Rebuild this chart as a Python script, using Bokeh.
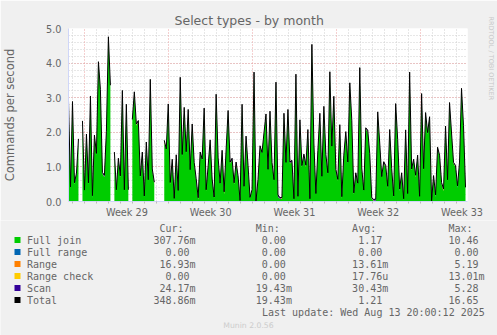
import numpy as np
from bokeh.plotting import figure
from bokeh.layouts import column
from bokeh.models import (Range1d, FixedTicker, SingleIntervalTicker, Grid, Title,
                          PrintfTickFormatter)
from bokeh.embed import file_html
from bokeh.resources import INLINE
from bokeh.core.properties import value

NAN = float("nan")

# ---- data (commands per second, one sample every 4 hours) ----
STEP_HOURS = 4
full_join = [
    2.88, 0.4, 2.83, 0.5, 0.8, 1.75, NAN, 2.3, 0.3, 1.9, 0.5, 3.02, 0.1, 1.85, 1.35, 4.0, 3.2,
    0.8, 0.7, 2.0, 4.73, 3.3, NAN, 1.4, 0.3, 1.2, 0.7, 3.17, 0.3, 2.78, 0.3, NAN, 2.35, 3.13,
    2.2, 2.3, 0.7, 1.4, 0.13, 1.65, 0.6, 3.5, 0.9, 0.5, NAN, NAN, NAN, NAN, 1.7, 1.5, 2.77,
    0.5, 1.2, 0.05, 1.3, 0.3, 3.54, 1.3, 2.7, 1.4, 2.6, 0.9, 2.2, 1.1, 0.6, 0.05, 1.4, 1.2,
    2.65, 0.3, 1.0, 1.75, 0.6, 0.1, 3.06, 1.2, 0.5, 1.45, 0.2, 1.45, 2.6, 1.1, 1.2, 0.5, 1.1,
    0.7, 0.0, 2.77, 0.4, 1.85, 1.0, 0.1, 0.3, 3.66, 0.0, 0.6, 1.55, 1.4, 1.95, 2.5, 0.9,
    2.55, 1.1, 0.6, 3.42, 0.13, 0.08, 0.08, 2.5, 1.1, 2.6, 1.1, 1.15, 0.05, 3.63, 0.13, 2.3, 1.0,
    1.35, 1.0, 2.05, 0.05, 4.49, 1.65, 0.2, 1.45, 2.5, 0.7, 2.7, 1.3, 0.8, 3.72, 1.55, 3.0, 0.9,
    0.6, 2.2, 0.08, 1.3, 2.0, 1.1, 3.4, 2.3, 0.2, 0.8, 0.5, 3.82, 0.9, 0.3, 2.1, 2.0, 1.35,
    0.08, 0.02, 0.02, 2.55, 1.65, 0.7, 1.1, 1.0, 0.4, 2.05, 0.9, 0.13, 2.8, 1.75, 0.3, 0.8,
    0.05, 2.0, 0.2, 3.71, 0.9, 1.2, 0.7, 1.3, 0.13, 3.06, 0.9, 2.55, 1.95, 2.4, 0.0, 0.7,
    0.13, 1.55, 1.3, 0.5, 0.3, 2.15, 0.6, 2.8, 1.95, 1.1, 1.0, 0.4, 1.1, 3.23, 2.15, 0.37,
]
full_range_vals = [0.0] * len(full_join)      # 0.00 everywhere (max 0.00)
range_check_vals = [0.0] * len(full_join)     # max 13.01m -> invisible at this scale
range_vals = [
    0.01, 0.0, 0.02, 0.01, 0.0, 0.01, 0.03, 0.01, 0.0, 0.01, 0.02, 0.0, 0.01, 0.05, 0.01, 0.0, 0.01, 0.02, 0.01, 0.0,
    0.01, 0.02, 0.0, 0.01, 0.01, 0.0, 0.02, 0.01, 0.0, 0.01, 0.01, 0.03, 0.0, 0.01, 0.02, 0.0, 0.01, 0.01, 0.0, 0.02,
    0.0, 0.01, 0.01, 0.02, 0.0, 0.01, 0.0, 0.01, 0.04, 0.0, 0.01, 0.02, 0.0, 0.01, 0.01, 0.0, 0.02, 0.01, 0.0, 0.01,
    0.02, 0.0, 0.01, 0.01, 0.0, 0.03, 0.01, 0.0, 0.01, 0.02, 0.0, 0.01, 0.01, 0.0, 0.02, 0.01, 0.0, 0.01, 0.05, 0.0,
    0.01, 0.01, 0.0, 0.02, 0.01, 0.0, 0.01, 0.01, 0.02, 0.0, 0.01, 0.0, 0.01, 0.03, 0.0, 0.01, 0.02, 0.0, 0.01, 0.01,
    0.0, 0.02, 0.01, 0.0, 0.01, 0.01, 0.0, 0.02, 0.01, 0.0, 0.04, 0.01, 0.0, 0.01, 0.02, 0.0, 0.01, 0.01, 0.0, 0.02,
    0.01, 0.0, 0.01, 0.02, 0.0, 0.01, 0.01, 0.0, 0.03, 0.01, 0.0, 0.01, 0.02, 0.0, 0.01, 0.01, 0.0, 0.02, 0.01, 0.0,
    0.01, 0.01, 0.0, 0.02, 0.01, 0.0, 0.01, 0.05, 0.0, 0.01, 0.02, 0.0, 0.01, 0.01, 0.0, 0.02, 0.01, 0.0, 0.01, 0.01,
    0.02, 0.0, 0.01, 0.01, 0.0, 0.02, 0.01, 0.0, 0.01, 0.03, 0.0, 0.01, 0.01, 0.0, 0.02, 0.01, 0.0, 0.01, 0.02, 0.0,
    0.01, 0.01, 0.0, 0.02, 0.01, 0.0, 0.01, 0.01, 0.04, 0.0, 0.01, 0.02, 0.0, 0.01, 0.01, 0.0, 0.02, 0.01, 0.0, 0.02,
]
scan_vals = [
    0.03, 0.02, 0.04, 0.03, 0.02, 0.05, 0.03, 0.02, 0.03, 0.04, 0.02, 0.03, 0.06, 0.02, 0.03, 0.04, 0.03, 0.02, 0.05, 0.03,
    0.02, 0.04, 0.03, 0.02, 0.03, 0.05, 0.02, 0.03, 0.04, 0.02, 0.03, 0.08, 0.02, 0.03, 0.02, 0.04, 0.03, 0.02, 0.03, 0.05,
    0.03, 0.02, 0.03, 0.04, 0.02, 0.03, 0.02, 0.05, 0.03, 0.02, 0.04, 0.03, 0.02, 0.03, 0.04, 0.02, 0.03, 0.05, 0.02, 0.03,
    0.04, 0.02, 0.03, 0.02, 0.06, 0.03, 0.02, 0.03, 0.04, 0.02, 0.03, 0.02, 0.04, 0.03, 0.02, 0.05, 0.03, 0.02, 0.03, 0.04,
    0.02, 0.03, 0.05, 0.02, 0.03, 0.04, 0.02, 0.03, 0.02, 0.04, 0.03, 0.02, 0.03, 0.05, 0.02, 0.03, 0.04, 0.02, 0.03, 0.02,
    0.03, 0.04, 0.02, 0.03, 0.02, 0.05, 0.03, 0.02, 0.04, 0.03, 0.02, 0.03, 0.04, 0.02, 0.03, 0.02, 0.05, 0.03, 0.02, 0.03,
    0.02, 0.03, 0.04, 0.02, 0.03, 0.02, 0.04, 0.03, 0.02, 0.05, 0.03, 0.02, 0.03, 0.04, 0.02, 0.03, 0.02, 0.04, 0.03, 0.02,
    0.03, 0.02, 0.05, 0.03, 0.02, 0.03, 0.04, 0.02, 0.03, 0.02, 0.04, 0.03, 0.02, 0.03, 0.05, 0.02, 0.03, 0.02, 0.04, 0.03,
    0.02, 0.03, 0.04, 0.02, 0.03, 0.02, 0.05, 0.03, 0.02, 0.04, 0.03, 0.02, 0.03, 0.02, 0.04, 0.03, 0.02, 0.05, 0.03, 0.02,
    0.03, 0.04, 0.02, 0.03, 0.05, 0.02, 0.03, 0.04, 0.02, 0.03, 0.02, 0.04, 0.03, 0.02, 0.03, 0.05, 0.02, 0.03, 0.04, 0.02,
]

# time axis (hours from left edge of the graph)
week_start_hours = [33, 201, 369, 537, 705]
week_labels = ["Week 29", "Week 30", "Week 31", "Week 32", "Week 33"]
day_hours = [9 + 24 * k for k in range(33)]

# legend table
series_names = ["Full join", "Full range", "Range", "Range check", "Scan", "Total"]
series_colors = ["#00CC00", "#0066B3", "#FF8000", "#FFCC00", "#330099", "#000000"]
cur_txt = ["307.76m", "0.00", "16.93m", "0.00", "24.17m", "348.86m"]
min_txt = ["0.00", "0.00", "0.00", "0.00", "19.43m", "19.43m"]
avg_txt = ["1.17", "0.00", "13.61m", "17.76u", "30.43m", "1.21"]
max_txt = ["10.46", "0.00", "5.19", "13.01m", "5.28", "16.65"]
col_heads = ["Cur:", "Min:", "Avg:", "Max:"]
last_update = "Last update: Wed Aug 13 20:00:12 2025"

FONT = "#666666"
BG = "#F0F0F0"
AXIS = "#CFD6F8"
NB = "\u00a0"

N = len(full_join)
t = np.arange(N) * STEP_HOURS
layers = [np.array(v, dtype=float) for v in
          (full_join, full_range_vals, range_vals, range_check_vals, scan_vals)]
fj = layers[0]
total = np.sum(np.vstack(layers), axis=0)

# ---------------- graph ----------------
p = figure(width=497, height=220, x_range=Range1d(0, 800), y_range=Range1d(0, 5),
           output_backend="svg", toolbar_location=None,
           min_border_left=67, min_border_right=30, min_border_top=28, min_border_bottom=17)
p.background_fill_color = "#FFFFFF"
p.border_fill_color = BG
p.outline_line_color = None

p.title.text = "Select types - by month"
p.title.align = "left"
p.title.offset = 106
p.title.standoff = 2
p.title.text_font = "DejaVu Sans"
p.title.text_font_size = "12.5px"
p.title.text_font_style = "normal"
p.title.text_color = FONT

# grids
p.xgrid.visible = False
p.add_layout(Grid(dimension=0, ticker=FixedTicker(ticks=week_start_hours,
                                                   minor_ticks=[d for d in day_hours if d not in week_start_hours]),
                  grid_line_color="#EBA0A0", grid_line_dash="1 2",
                  minor_grid_line_color="#CFCFCF", minor_grid_line_dash="1 2"))
p.yaxis.ticker = SingleIntervalTicker(interval=1, num_minor_ticks=5)
p.ygrid.grid_line_color = "#EBA0A0"
p.ygrid.grid_line_dash = "1 2"
p.ygrid.minor_grid_line_color = "#CFCFCF"
p.ygrid.minor_grid_line_dash = "1 2"

# axes
label_hours = [h + 84 for h in week_start_hours]
p.xaxis.ticker = FixedTicker(ticks=label_hours, minor_ticks=day_hours)
p.xaxis.major_label_overrides = {float(h): l for h, l in zip(label_hours, week_labels)}
p.xaxis.major_tick_in = 0
p.xaxis.major_tick_out = 0
p.xaxis.minor_tick_in = 0
p.xaxis.minor_tick_out = 2
p.xaxis.minor_tick_line_color = "#BBBBBB"
p.xaxis.major_label_standoff = 3
p.yaxis.major_tick_in = 0
p.yaxis.major_tick_out = 0
p.yaxis.minor_tick_in = 0
p.yaxis.minor_tick_out = 0
p.yaxis.major_label_standoff = 7
p.yaxis.formatter = PrintfTickFormatter(format="%.1f")
p.yaxis.axis_label = "Commands per second"
p.yaxis.axis_label_standoff = 26
p.yaxis.axis_label_text_font = "DejaVu Sans"
p.yaxis.axis_label_text_font_size = "11.5px"
p.yaxis.axis_label_text_font_style = "normal"
p.yaxis.axis_label_text_color = FONT
for ax in (p.xaxis[0], p.yaxis[0]):
    ax.axis_line_color = AXIS
    ax.major_label_text_font = "DejaVu Sans"
    ax.major_label_text_font_size = "9.7px"
    ax.major_label_text_color = FONT

# stacked areas, split at unknown samples
valid = ~np.isnan(fj)
runs = []
i = 0
while i < N:
    if valid[i]:
        j = i
        while j < N and valid[j]:
            j += 1
        runs.append((i, j))
        i = j
    else:
        i += 1
for a, b in runs:
    lower = np.zeros(b - a)
    for layer, color in zip(layers, series_colors[:5]):
        upper = lower + layer[a:b]
        p.varea(x=t[a:b], y1=lower, y2=upper, fill_color=color)
        lower = upper
p.line(t, total, line_color="#000000", line_width=1)

# side credit (spacer title pushes it to the right edge)
p.add_layout(Title(text=NB, text_font_size="1px", standoff=15), "right")
p.add_layout(Title(text="RRDTOOL / TOBI OETIKER", align="left", offset=-12, standoff=2,
                   text_font="DejaVu Sans", text_font_size="6.5px", text_font_style="normal",
                   text_color="#C8C8C8"), "right")

# ---------------- legend panel ----------------
p2 = figure(width=497, height=115, x_range=Range1d(0, 497), y_range=Range1d(335, 220),
            output_backend="svg", toolbar_location=None, x_axis_location=None, y_axis_location=None,
            min_border_left=0, min_border_right=0, min_border_top=0, min_border_bottom=0)
p2.grid.visible = False
p2.outline_line_color = None
p2.background_fill_color = BG
p2.border_fill_color = BG
for f in (p, p2):
    if "frame_align" in f.properties():
        f.frame_align = False

def cell(s):
    s = s if s[-1].isalpha() else s + NB
    return s.rjust(7, NB)

def legend_line(k):
    cols = [cur_txt[k], min_txt[k], avg_txt[k], max_txt[k]]
    return series_names[k].ljust(21, NB) + (NB * 9).join(cell(c) for c in cols)

row_y = [239.6, 251.6, 263.6, 275.6, 287.6, 299.6]
mono = dict(text_font=value("DejaVu Sans Mono"), text_font_size="10px", text_color=FONT,
            text_baseline="middle", text_align="left")
p2.rect(x=[17] * 6, y=row_y, width=6, height=6, fill_color=series_colors, line_color=None)
p2.text(x=[26.5] * 6, y=row_y, text=[legend_line(k) for k in range(6)], **mono)
p2.text(x=[26.5], y=[227.5], text=[NB * 22 + (NB * 12).join(col_heads)], **mono)
p2.text(x=[261.5], y=[311.6], text=[last_update], **mono)
p2.text(x=[248], y=[324.5], text=["Munin 2.0.56"], text_font=value("DejaVu Sans"),
        text_font_size="7.7px", text_color="#CCCCCC", text_baseline="middle", text_align="center")

layout = column(p, p2, spacing=0)
open("out.html", "w").write(file_html(layout, INLINE))
